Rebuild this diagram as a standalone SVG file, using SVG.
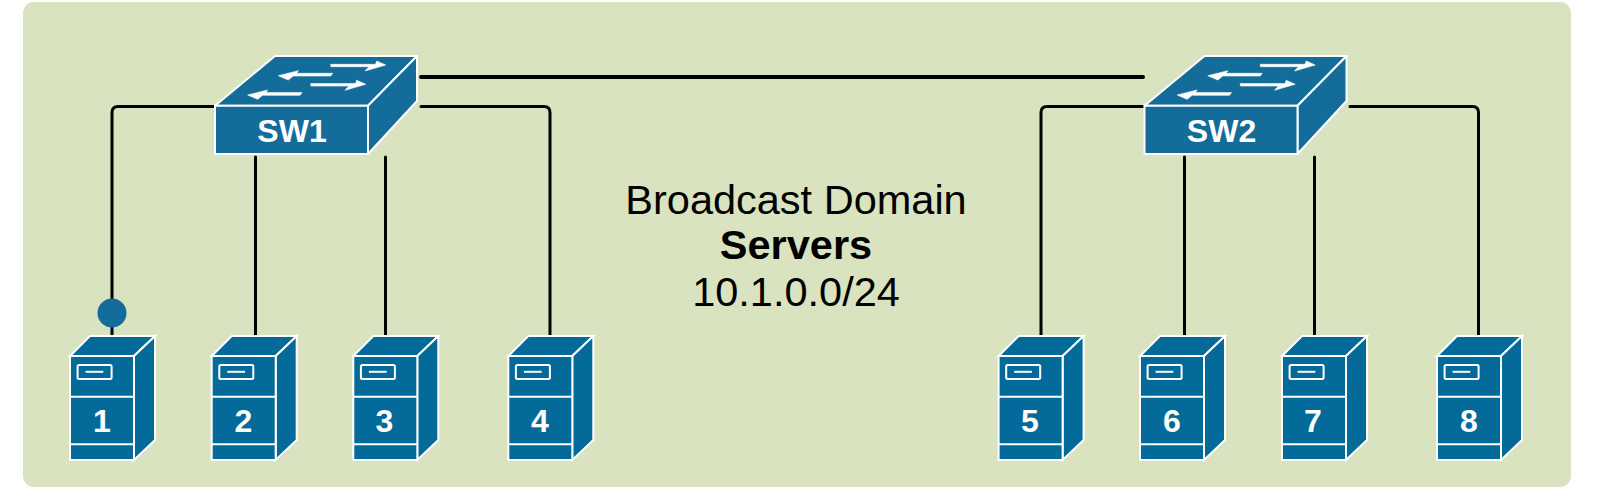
<svg xmlns="http://www.w3.org/2000/svg" width="1597" height="491" viewBox="0 0 1597 491">
<style>
text{font-family:"Liberation Sans",Arial,sans-serif}
.lbl{fill:#fff;font-weight:700;text-anchor:middle;font-size:32px}
.cap{fill:#000;font-size:41.5px;text-anchor:middle}
.sw{fill:#146c9a;stroke:#fff;stroke-width:2;stroke-linejoin:round}
.sv{fill:#036a9a;stroke:#fff;stroke-width:2;stroke-linejoin:miter}
.arr{fill:#fff;stroke:#fff;stroke-width:.6}
#links path{fill:none;stroke:#000;stroke-width:3;stroke-linecap:round}
</style>
<defs>
<g id="switch-shape">
<path class="sw" d="M215 105.700L275 56H417L368 105.700Z"/>
<path class="sw" d="M368 105.700L417 56V101L368 154Z"/>
<rect class="sw" x="215" y="105.700" width="153" height="48.300"/>
<path class="arr" d="M330.700 64.300H375.500L376.700 61L385.700 65L365 71L369 66.700H331Z"/>
<path class="arr" d="M278.300 75.700L298.300 70.700L296.700 73.300H332.700L330.700 76H293.300L288.300 80Z"/>
<path class="arr" d="M310.700 83.600H355.500L356.700 80.300L365.700 84.300L345 90.300L349 86H311Z"/>
<path class="arr" d="M247.600 95L267.600 90L266 92.600H302L300 95.300H262.600L257.600 99.300Z"/>
</g>
<g id="server-shape">
<path class="sv" d="M70 356L90 336H155L134 356Z"/>
<path class="sv" d="M134 356L155 336V440L134 460Z"/>
<rect class="sv" x="70" y="356" width="64" height="104"/>
<path d="M70 396.700H134M70 444.300H134" fill="none" stroke="#fff" stroke-width="2"/>
<rect x="77.600" y="365" width="34" height="14" rx="1.500" fill="none" stroke="#fff" stroke-width="2"/>
<path d="M85.600 371.800H103.300" stroke="#fff" stroke-width="2"/>
</g>
</defs>
<rect x="23" y="2" width="1548" height="485" rx="11" fill="#d9e3bf"/>
<g id="links">
<path d="M214 106.500H118Q112 106.500 112 112.500V336"/>
<path d="M255.500 157V336"/>
<path d="M385.500 157V336"/>
<path d="M421 106.500H544Q550 106.500 550 112.500V336"/>
<path d="M421 77H1143" style="stroke-width:4"/>
<path d="M1143 106.500H1047Q1041 106.500 1041 112.500V336"/>
<path d="M1184.500 157V336"/>
<path d="M1314.500 157V336"/>
<path d="M1350 106.500H1472.500Q1478.500 106.500 1478.500 112.500V336"/>
</g>
<circle id="marker-dot" cx="112" cy="313" r="14.500" fill="#146c9a"/>
<g id="sw1"><use href="#switch-shape"/><text class="lbl" x="292" y="142">SW1</text></g>
<g id="sw2"><use href="#switch-shape" x="929.500"/><text class="lbl" x="1221.500" y="142">SW2</text></g>
<g id="srv1"><use href="#server-shape"/><text class="lbl" x="102" y="432">1</text></g>
<g id="srv2"><use href="#server-shape" x="141.700"/><text class="lbl" x="243.500" y="432">2</text></g>
<g id="srv3"><use href="#server-shape" x="283.300"/><text class="lbl" x="384.500" y="432">3</text></g>
<g id="srv4"><use href="#server-shape" x="438.300"/><text class="lbl" x="540" y="432">4</text></g>
<g id="srv5"><use href="#server-shape" x="928.600"/><text class="lbl" x="1030" y="432">5</text></g>
<g id="srv6"><use href="#server-shape" x="1070"/><text class="lbl" x="1172" y="432">6</text></g>
<g id="srv7"><use href="#server-shape" x="1212"/><text class="lbl" x="1313" y="432">7</text></g>
<g id="srv8"><use href="#server-shape" x="1367"/><text class="lbl" x="1469" y="432">8</text></g>
<g id="caption">
<text class="cap" x="796" y="214">Broadcast Domain</text>
<text class="cap" x="796" y="259" font-weight="700">Servers</text>
<text class="cap" x="796" y="306">10.1.0.0/24</text>
</g>
</svg>
